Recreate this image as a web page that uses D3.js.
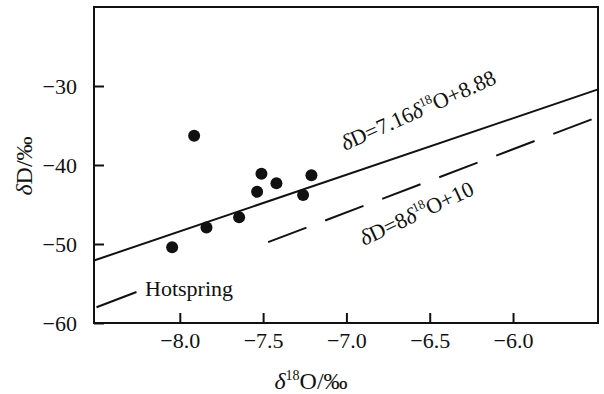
<!DOCTYPE html>
<html>
<head>
<meta charset="utf-8">
<script src="https://cdn.jsdelivr.net/npm/d3@7"></script>
<style>
  body { margin: 0; background: #fff; }
  svg { display: block; }
  text { font-family: "Liberation Serif", "Times New Roman", serif; fill: #111; }
</style>
</head>
<body>
<svg id="chart" width="604" height="394"></svg>
<script>
// Sample data
const d18O = [-7.914, -8.046, -7.84, -7.644, -7.536, -7.51, -7.42, -7.26, -7.21];
const dD = [-36.3, -50.4, -47.9, -46.6, -43.4, -41.1, -42.3, -43.8, -41.3];

// Tick values
const xTicks = [-8.0, -7.5, -7.0, -6.5, -6.0];
const yTicks = [-60, -50, -40, -30];

// Lines: local fit and global meteoric water line
const localFit = { slope: 7.16, intercept: 8.88 };
const gmwl = { slope: 8, intercept: 10 };
const gmwlStart = -7.47;         // dashed part starts here
const hotspringSeg = [-8.5, -8.26]; // short leader next to the label

const width = 604;
const height = 394;
const margin = { left: 94, right: 6, top: 7, bottom: 71 };

const svg = d3.select("#chart");

const x = d3.scaleLinear()
    .domain([-8.515, -5.49])
    .range([margin.left, width - margin.right]);
const y = d3.scaleLinear()
    .domain([-60, -20])
    .range([height - margin.bottom, margin.top]);

const [x0, x1] = x.domain();

// frame
svg.append("rect")
    .attr("x", x(x0))
    .attr("y", y(-20))
    .attr("width", x(x1) - x(x0))
    .attr("height", y(-60) - y(-20))
    .attr("fill", "none")
    .attr("stroke", "#111")
    .attr("stroke-width", 2);

// axes with inward ticks
const xAxis = svg.append("g")
    .attr("transform", `translate(0,${y(-60)})`)
    .call(d3.axisBottom(x).tickValues(xTicks).tickSizeInner(-10).tickSizeOuter(0)
        .tickPadding(9).tickFormat(d3.format(".1f")));
xAxis.select(".domain").remove();

const yAxis = svg.append("g")
    .attr("transform", `translate(${x(x0)},0)`)
    .call(d3.axisLeft(y).tickValues(yTicks).tickSizeInner(-10).tickSizeOuter(0)
        .tickPadding(17).tickFormat(d3.format("d")));
yAxis.select(".domain").remove();
yAxis.selectAll(".tick line").attr("stroke", "#111").attr("stroke-width", 2);
xAxis.selectAll(".tick line").attr("stroke", "#111").attr("stroke-width", 2);

svg.selectAll(".tick text")
    .attr("font-family", "'Liberation Serif', serif")
    .attr("font-size", 22)
    .attr("fill", "#111")
    .text(function () { return d3.select(this).text().replace("-", "\u2212"); });

// regression line
const lineGen = d3.line().x(d => x(d[0])).y(d => y(d[1]));
const f = (m, v) => m.slope * v + m.intercept;

svg.append("path")
    .datum([[x0, f(localFit, x0)], [x1, f(localFit, x1)]])
    .attr("d", lineGen)
    .attr("fill", "none")
    .attr("stroke", "#111")
    .attr("stroke-width", 2);

// GMWL dashed
svg.append("path")
    .datum([[gmwlStart, f(gmwl, gmwlStart)], [x1, f(gmwl, x1)]])
    .attr("d", lineGen)
    .attr("fill", "none")
    .attr("stroke", "#111")
    .attr("stroke-width", 2)
    .attr("stroke-dasharray", "41,20");

svg.append("path")
    .datum(hotspringSeg.map(v => [v, f(gmwl, v)]))
    .attr("d", lineGen)
    .attr("fill", "none")
    .attr("stroke", "#111")
    .attr("stroke-width", 2);

// points
svg.append("g")
    .selectAll("circle")
    .data(d18O.map((v, i) => [v, dD[i]]))
    .join("circle")
    .attr("cx", d => x(d[0]))
    .attr("cy", d => y(d[1]))
    .attr("r", 6)
    .attr("fill", "#111");

// labels
svg.append("text")
    .attr("x", 145)
    .attr("y", 296)
    .attr("font-size", 22)
    .text("Hotspring");

function eqLabel(px, py, angle, parts) {
    const t = svg.append("text")
        .attr("transform", `translate(${px},${py}) rotate(${angle})`)
        .attr("font-size", 22);
    parts.forEach(p => {
        const s = t.append("tspan").text(p.t);
        if (p.i) s.attr("font-style", "italic");
        if (p.sup) s.attr("font-size", 13).attr("dy", -9);
        if (p.down) s.attr("dy", 9);
    });
}

eqLabel(345, 151, -24, [
    { t: "\u03b4", i: true }, { t: "D=7.16" }, { t: "\u03b4", i: true },
    { t: "18", sup: true }, { t: "O+8.88", down: true }
]);
eqLabel(364, 246, -25, [
    { t: "\u03b4", i: true }, { t: "D=8" }, { t: "\u03b4", i: true },
    { t: "18", sup: true }, { t: "O+10", down: true }
]);

// axis titles
const xt = svg.append("text")
    .attr("x", 311)
    .attr("y", 389)
    .attr("text-anchor", "middle")
    .attr("font-size", 24);
xt.append("tspan").attr("font-style", "italic").text("\u03b4");
xt.append("tspan").attr("font-size", 14).attr("dy", -9).text("18");
xt.append("tspan").attr("dy", 9).text("O/\u2030");

const yt = svg.append("text")
    .attr("transform", `translate(32,166) rotate(-90)`)
    .attr("text-anchor", "middle")
    .attr("font-size", 24);
yt.append("tspan").attr("font-style", "italic").text("\u03b4");
yt.append("tspan").text("D/\u2030");
</script>
</body>
</html>
